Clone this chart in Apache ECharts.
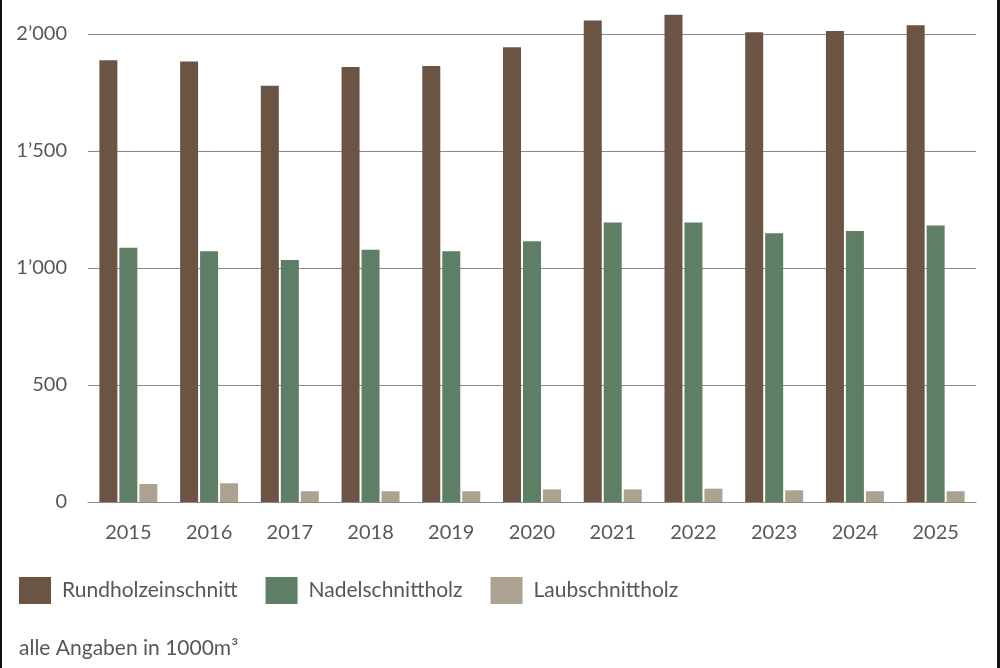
<!DOCTYPE html>
<html>
<head>
<meta charset="utf-8">
<script src="https://cdn.jsdelivr.net/npm/echarts@6/dist/echarts.min.js"></script>
<style>
html,body{margin:0;padding:0;background:#fff;}
#chart{width:1000px;height:668px;}
</style>
</head>
<body>
<div id="chart"></div>
<script>
const years = ['2015','2016','2017','2018','2019','2020','2021','2022','2023','2024','2025'];
const rundholz = [1888, 1883, 1779, 1859, 1863, 1943, 2058, 2082, 2007, 2013, 2037];
const nadel = [1087, 1072, 1034, 1078, 1072, 1114, 1194, 1194, 1148, 1158, 1182];
const laub = [77, 80, 46, 46, 46, 54, 54, 57, 50, 46, 46];
const seriesNames = ['Rundholzeinschnitt', 'Nadelschnittholz', 'Laubschnittholz'];
const colors = ['#6C5445', '#5E7E66', '#ADA28F'];
const footnote = 'alle Angaben in 1000m³';

const FONT = 'Lato';
const TXT = '#575757';

const chart = echarts.init(document.getElementById('chart'), null, {renderer: 'canvas'});
function fmt(v) {
  if (v >= 1000) {
    const t = Math.floor(v / 1000);
    const r = String(v % 1000).padStart(3, '0');
    return t + '\u2019' + r;
  }
  return String(v);
}
const option = {
  backgroundColor: '#ffffff',
  animation: false,
  color: colors,
  textStyle: {fontFamily: FONT, color: TXT},
  grid: {left: 88, right: 24, top: 34, bottom: 166, containLabel: false},
  legend: {
    left: 14, top: 572,
    icon: 'rect', itemWidth: 32, itemHeight: 27, itemGap: 28,
    textStyle: {fontFamily: FONT, fontSize: 21, color: TXT, padding: [0, 0, 0, 6]},
    data: seriesNames
  },
  xAxis: {
    type: 'category', data: years,
    axisLine: {show: true, lineStyle: {color: '#8a8a8a', width: 1}},
    axisTick: {show: false},
    axisLabel: {fontFamily: FONT, fontSize: 20, color: TXT, margin: 21}
  },
  yAxis: {
    type: 'value', min: 0, max: 2000, interval: 500,
    axisLine: {show: false}, axisTick: {show: false},
    splitLine: {lineStyle: {color: '#8a8a8a', width: 1}},
    axisLabel: {fontFamily: FONT, fontSize: 20, color: TXT, margin: 21, formatter: fmt}
  },
  series: [
    {name: seriesNames[0], type: 'bar', data: rundholz, barWidth: 18, barGap: '11%', clip: false},
    {name: seriesNames[1], type: 'bar', data: nadel, barWidth: 18, barGap: '11%', clip: false},
    {name: seriesNames[2], type: 'bar', data: laub, barWidth: 18, barGap: '11%', clip: false}
  ],
  graphic: [
    {type: 'text', left: 19, top: 638, style: {text: footnote, font: '21px ' + FONT, fill: TXT}},
    {type: 'rect', left: 0, top: 0, shape: {width: 2, height: 668}, style: {fill: '#111'}},
    {type: 'rect', left: 997, top: 0, shape: {width: 3, height: 668}, style: {fill: '#111'}}
  ]
};
chart.setOption(option);
</script>
</body>
</html>
